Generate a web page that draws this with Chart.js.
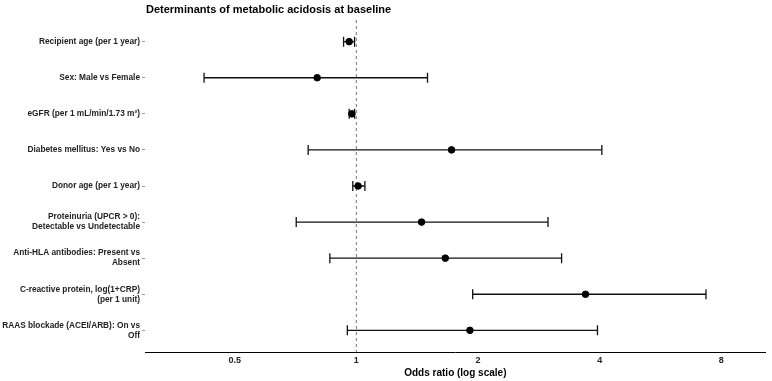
<!DOCTYPE html>
<html>
<head>
<meta charset="utf-8">
<script src="https://cdn.jsdelivr.net/npm/chart.js@4.4.0/dist/chart.umd.min.js"></script>
<style>
  body { margin: 0; background: #fff; }
  #wrap { width: 772px; height: 381px; }
</style>
</head>
<body>
<div id="wrap"><canvas id="myChart" width="772" height="381"></canvas></div>
<script>
var etiquetas = [
  'Recipient age (per 1 year)',
  'Sex: Male vs Female',
  'eGFR (per 1 mL/min/1.73 m\u00b2)',
  'Diabetes mellitus: Yes vs No',
  'Donor age (per 1 year)',
  ['Proteinuria (UPCR > 0):', 'Detectable vs Undetectable'],
  ['Anti-HLA antibodies: Present vs', 'Absent'],
  ['C-reactive protein, log(1+CRP)', '(per 1 unit)'],
  ['RAAS blockade (ACEI/ARB): On vs', 'Off']
];
var oddsRatio = [0.96, 0.80, 0.975, 1.72, 1.01, 1.45, 1.66, 3.69, 1.91];
var ciBajo = [0.93, 0.42, 0.96, 0.76, 0.98, 0.71, 0.86, 1.94, 0.95];
var ciAlto = [0.99, 1.50, 0.99, 4.05, 1.05, 2.98, 3.22, 7.33, 3.95];
var xTicks = [0.5, 1, 2, 4, 8];
var titulo = 'Determinants of metabolic acidosis at baseline';

var fuente = '"Liberation Sans", Arial, sans-serif';
var datasets = [];

// puntos
var puntos = [];
for (var i = 0; i < oddsRatio.length; i++) {
  puntos.push({ x: oddsRatio[i], y: i });
}
datasets.push({
  data: puntos,
  showLine: false,
  pointRadius: 3.3,
  pointBackgroundColor: '#000',
  pointBorderColor: '#000',
  order: 0
});

// intervalos
for (var i = 0; i < oddsRatio.length; i++) {
  datasets.push({
    data: [{ x: ciBajo[i], y: i }, { x: ciAlto[i], y: i }],
    showLine: true,
    borderColor: '#111',
    borderWidth: 1.3,
    pointStyle: 'line',
    rotation: 90,
    pointRadius: 5,
    pointBorderColor: '#111',
    pointBorderWidth: 1.3,
    order: 1
  });
}

// linea de referencia en 1
datasets.push({
  data: [{ x: 1, y: -0.6 }, { x: 1, y: 8.6 }],
  showLine: true,
  borderColor: '#777',
  borderWidth: 1,
  borderDash: [3, 3],
  pointRadius: 0,
  order: 2
});

var tituloPlugin = {
  id: 'tituloPlugin',
  afterDraw: function (chart) {
    var ctx = chart.ctx;
    ctx.save();
    ctx.font = 'bold 11px ' + fuente;
    ctx.fillStyle = '#000';
    ctx.textBaseline = 'middle';
    ctx.textAlign = 'left';
    ctx.fillText(titulo, chart.chartArea.left + 1, 10);
    ctx.restore();
  }
};

var ctx = document.getElementById('myChart').getContext('2d');
var myChart = new Chart(ctx, {
  type: 'scatter',
  data: { datasets: datasets },
  options: {
    responsive: false,
    animation: false,
    layout: { padding: { top: 20, right: 5, left: 0, bottom: 0 } },
    plugins: {
      legend: { display: false },
      tooltip: { enabled: false }
    },
    scales: {
      x: {
        type: 'logarithmic',
        min: 0.3,
        max: 10.3,
        afterBuildTicks: function (scale) {
          scale.ticks = xTicks.map(function (v) { return { value: v }; });
        },
        afterFit: function (scale) { scale.height = 29; },
        ticks: {
          color: '#222',
          font: { family: fuente, size: 9, weight: 'bold' },
          padding: 3,
          maxRotation: 0,
          callback: function (v) { return String(v); }
        },
        grid: { display: false, drawTicks: false },
        border: { display: true, color: '#000', width: 1 },
        title: {
          display: true,
          text: 'Odds ratio (log scale)',
          color: '#000',
          font: { family: fuente, size: 10, weight: 'bold' },
          padding: { top: 2, bottom: 2 }
        }
      },
      y: {
        type: 'linear',
        reverse: true,
        min: -0.6,
        max: 8.6,
        afterBuildTicks: function (scale) {
          scale.ticks = etiquetas.map(function (_e, i) { return { value: i }; });
        },
        afterFit: function (scale) { scale.width = 145; },
        ticks: {
          color: '#222',
          font: { family: fuente, size: 8.3, weight: 'bold' },
          padding: 2,
          callback: function (v) { return etiquetas[v]; }
        },
        grid: { drawOnChartArea: false, drawTicks: true, tickLength: 3, color: '#999' },
        border: { display: false }
      }
    }
  },
  plugins: [tituloPlugin]
});
</script>
</body>
</html>
